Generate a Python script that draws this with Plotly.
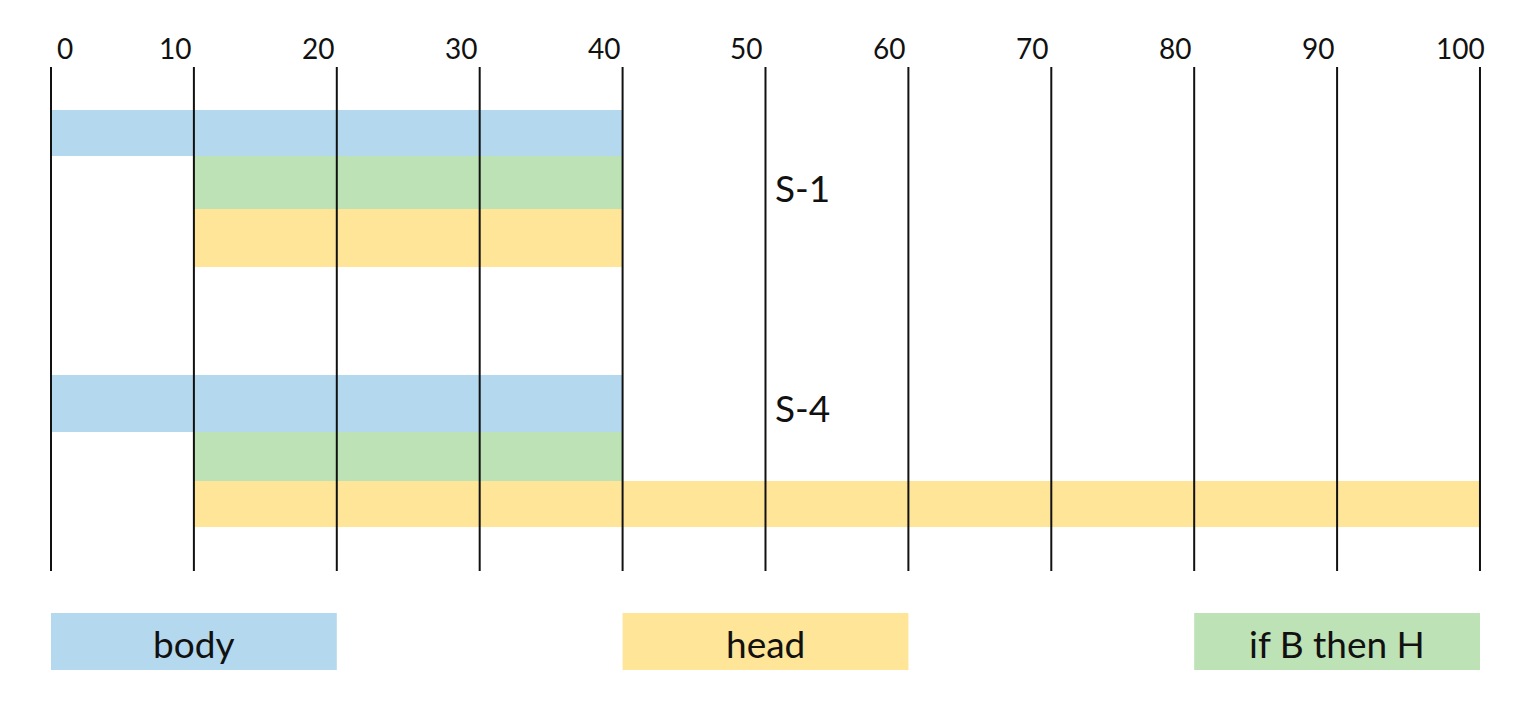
import plotly.graph_objects as go

# ---- data ----
ticks = [0, 10, 20, 30, 40, 50, 60, 70, 80, 90, 100]
tick_labels = ["0", "10", "20", "30", "40", "50", "60", "70", "80", "90", "100"]

scenarios = ["S-1", "S-4"]
series = ["body", "if B then H", "head"]
starts = {
    "S-1": [0, 10, 10],
    "S-4": [0, 10, 10],
}
ends = {
    "S-1": [40, 40, 40],
    "S-4": [40, 40, 100],
}
legend_names = ["body", "head", "if B then H"]
legend_start = [0, 40, 80]
legend_end = [20, 60, 100]

# ---- styling / layout (not data) ----
colors = {"body": "#B4D8EE", "if B then H": "#BDE2B5", "head": "#FEE597"}
row_center = {"S-1": [133, 182.5, 238], "S-4": [403.5, 456.5, 504]}
row_thick = {"S-1": [46, 53, 58], "S-4": [57, 49, 46]}
label_y = {"S-1": 187, "S-4": 407}
label_x = 50
FONT = "Lato, Carlito, Calibri, sans-serif"

fig = go.Figure()

for s in scenarios:
    for i, name in enumerate(series):
        fig.add_trace(go.Bar(
            orientation="h",
            base=[starts[s][i]],
            x=[ends[s][i] - starts[s][i]],
            y=[row_center[s][i]],
            width=[row_thick[s][i]],
            marker=dict(color=colors[name], line=dict(width=0)),
            hoverinfo="skip",
            showlegend=False,
        ))

# legend boxes
for i, name in enumerate(legend_names):
    fig.add_trace(go.Bar(
        orientation="h",
        base=[legend_start[i]],
        x=[legend_end[i] - legend_start[i]],
        y=[641.5],
        width=[57],
        marker=dict(color=colors[name], line=dict(width=0)),
        hoverinfo="skip",
        showlegend=False,
    ))
    fig.add_annotation(
        x=(legend_start[i] + legend_end[i]) / 2, y=643,
        text=name, showarrow=False,
        font=dict(family=FONT, size=37, color="#111111"),
        xanchor="center", yanchor="middle",
    )

# vertical lines
lx, ly = [], []
for t in ticks:
    lx += [t, t, None]
    ly += [67, 571, None]
fig.add_trace(go.Scatter(
    x=lx, y=ly, mode="lines",
    line=dict(color="#111111", width=2),
    hoverinfo="skip", showlegend=False,
))

# tick labels
for t, lab in zip(ticks, tick_labels):
    fig.add_annotation(
        x=t, y=48, text=lab, showarrow=False,
        xanchor="center", yanchor="middle",
        xshift=14 if t == 0 else -19,
        font=dict(family=FONT, size=28, color="#111111"),
    )

# scenario labels
for s in scenarios:
    fig.add_annotation(
        x=label_x, y=label_y[s], text=s, showarrow=False,
        xanchor="left", yanchor="middle", xshift=8,
        font=dict(family=FONT, size=37, color="#111111"),
    )

fig.update_layout(
    width=1526, height=704,
    margin=dict(l=0, r=0, t=0, b=0),
    paper_bgcolor="white", plot_bgcolor="white",
    barmode="overlay",
    xaxis=dict(range=[-3.009, 103.78], visible=False, fixedrange=True),
    yaxis=dict(range=[712, 8], visible=False, fixedrange=True),
    showlegend=False,
)

fig.write_html("out.html")
